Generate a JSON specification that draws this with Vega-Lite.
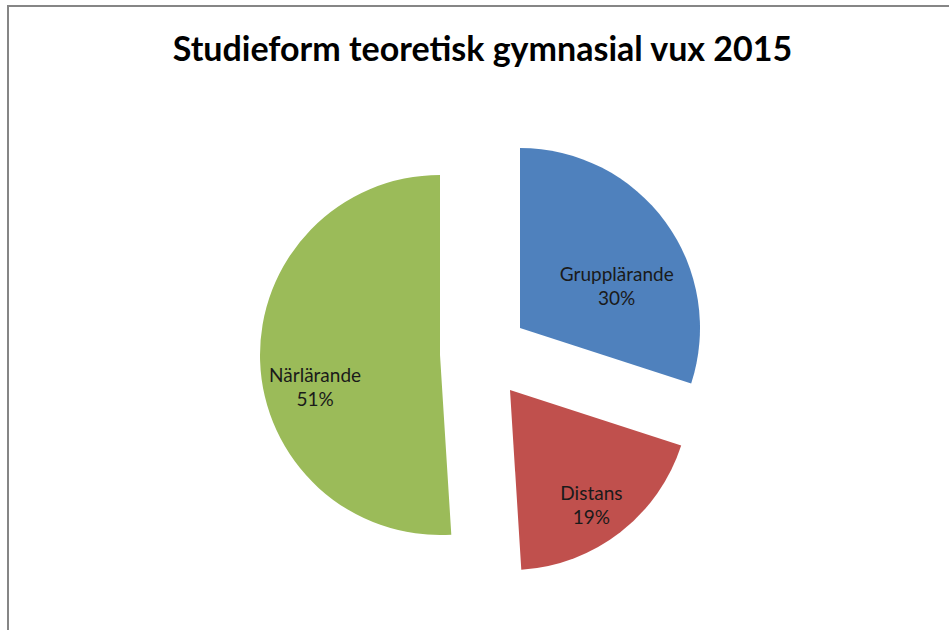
{
  "$schema": "https://vega.github.io/schema/vega-lite/v6.json",
  "width": 941,
  "height": 624,
  "autosize": {"type": "none"},
  "padding": {"left": 8, "top": 6, "right": 0, "bottom": 0},
  "background": "white",
  "view": {"stroke": "#868686", "strokeWidth": 2, "strokeDash": [941, 1565, 624], "fill": "white"},
  "title": {
    "text": "Studieform teoretisk gymnasial vux 2015",
    "font": "Lato",
    "fontSize": 34,
    "fontWeight": "bold",
    "color": "#000000",
    "anchor": "middle",
    "frame": "group",
    "orient": "top",
    "baseline": "alphabetic",
    "offset": -89,
    "dx": 4
  },
  "data": {
    "values": [
      {"form": "Grupplärande", "andel": 30},
      {"form": "Distans", "andel": 19},
      {"form": "Närlärande", "andel": 51}
    ]
  },
  "transform": [
    {"window": [{"op": "sum", "field": "andel", "as": "end"}], "frame": [null, 0]},
    {"calculate": "datum.end - datum.andel", "as": "start"},
    {"calculate": "(datum.start + datum.end) / 2", "as": "mid"},
    {"calculate": "datum.form + '\\n' + datum.andel + '%'", "as": "label"}
  ],
  "layer": [
    {
      "transform": [{"filter": "datum.form === 'Grupplärande'"}],
      "layer": [
        {
          "mark": {"type": "arc", "outerRadius": 180, "color": "#4F81BD", "xOffset": 41.5, "yOffset": 10},
          "encoding": {
            "theta": {"field": "start", "type": "quantitative", "scale": {"domain": [0, 100], "range": [0, 6.283185307]}},
            "theta2": {"field": "end"}
          }
        },
        {
          "mark": {"type": "text", "font": "Lato", "fontSize": 19, "color": "#1a1a1a", "lineBreak": "\n", "lineHeight": 24, "align": "center", "baseline": "middle", "xOffset": 41.5, "yOffset": 10, "dx": 15, "dy": 6},
          "encoding": {
            "theta": {"field": "mid", "type": "quantitative", "stack": null, "scale": {"domain": [0, 100], "range": [0, 6.283185307]}},
            "radius": {"value": 101},
            "text": {"field": "label"}
          }
        }
      ]
    },
    {
      "transform": [{"filter": "datum.form === 'Distans'"}],
      "layer": [
        {
          "mark": {"type": "arc", "outerRadius": 180, "color": "#C0504D", "xOffset": 31.5, "yOffset": 72},
          "encoding": {
            "theta": {"field": "start", "type": "quantitative", "scale": {"domain": [0, 100], "range": [0, 6.283185307]}},
            "theta2": {"field": "end"}
          }
        },
        {
          "mark": {"type": "text", "font": "Lato", "fontSize": 19, "color": "#1a1a1a", "lineBreak": "\n", "lineHeight": 24, "align": "center", "baseline": "middle", "xOffset": 31.5, "yOffset": 72, "dx": -5, "dy": -7},
          "encoding": {
            "theta": {"field": "mid", "type": "quantitative", "stack": null, "scale": {"domain": [0, 100], "range": [0, 6.283185307]}},
            "radius": {"value": 141},
            "text": {"field": "label"}
          }
        }
      ]
    },
    {
      "transform": [{"filter": "datum.form === 'Närlärande'"}],
      "layer": [
        {
          "mark": {"type": "arc", "outerRadius": 180, "color": "#9BBB59", "xOffset": -38.5, "yOffset": 37},
          "encoding": {
            "theta": {"field": "start", "type": "quantitative", "scale": {"domain": [0, 100], "range": [0, 6.283185307]}},
            "theta2": {"field": "end"}
          }
        },
        {
          "mark": {"type": "text", "font": "Lato", "fontSize": 19, "color": "#1a1a1a", "lineBreak": "\n", "lineHeight": 24, "align": "center", "baseline": "middle", "xOffset": -38.5, "yOffset": 37, "dx": 1, "dy": 17},
          "encoding": {
            "theta": {"field": "mid", "type": "quantitative", "stack": null, "scale": {"domain": [0, 100], "range": [0, 6.283185307]}},
            "radius": {"value": 126},
            "text": {"field": "label"}
          }
        }
      ]
    }
  ]
}
